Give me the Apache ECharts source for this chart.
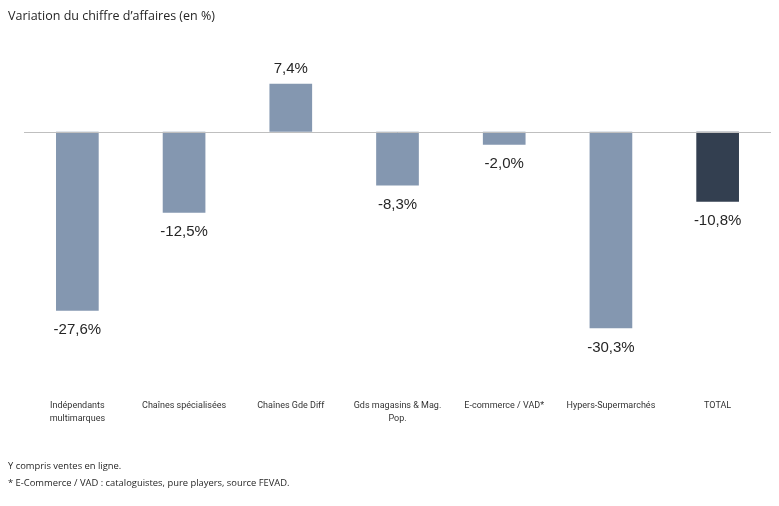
<!DOCTYPE html>
<html><head><meta charset="utf-8">
<script src="https://cdn.jsdelivr.net/npm/echarts@6/dist/echarts.min.js"></script>
<style>html,body{margin:0;padding:0;background:#fff}#c{width:779px;height:506px}</style>
</head><body><div id="c"></div>
<script>
const categories = ["Indépendants\nmultimarques","Chaînes spécialisées","Chaînes Gde Diff","Gds magasins & Mag.\nPop.","E-commerce / VAD*","Hypers-Supermarchés","TOTAL"];
const values = [-27.6, -12.5, 7.4, -8.3, -2.0, -30.3, -10.8];
const barColors = ["#8497b0","#8497b0","#8497b0","#8497b0","#8497b0","#8497b0","#333f50"];
const titleText = "Variation du chiffre d’affaires (en %)";
const notes = ["Y compris ventes en ligne.", "* E-Commerce / VAD : cataloguistes, pure players, source FEVAD."];

const chart = echarts.init(document.getElementById('c'), null, {renderer:'canvas'});
chart.setOption({
  animation:false,
  graphic:[
    {type:'text',left:8,top:10,style:{text:titleText,font:'12.5px "Open Sans"',fill:'#262626'}},
    {type:'text',left:8,top:462,style:{text:notes[0],font:'9.4px "Open Sans"',fill:'#262626'}},
    {type:'text',left:8,top:479,style:{text:notes[1],font:'9.4px "Open Sans"',fill:'#262626'}}
  ],
  grid:{left:24,right:8,top:67,bottom:115},
  xAxis:{type:'category',data:categories,position:'bottom',axisLine:{show:false},axisTick:{show:false},
     axisLabel:{interval:0,margin:8,fontFamily:'Roboto',fontSize:9,color:'#333',lineHeight:13}},
  yAxis:{type:'value',min:-40,max:10,interval:10,show:false,splitLine:{show:false}},
  series:[{
    type:'bar',barWidth:'40%',
    data:values.map((v,i)=>({value:v,itemStyle:{color:barColors[i]},
      label:{position:v>=0?'top':'bottom',distance:v>=0?7:12}})),
    label:{show:true,fontFamily:'Liberation Sans',fontSize:15,color:'#262626',
      formatter:p=>p.value.toFixed(1).replace('.',',')+'%'},
    markLine:{silent:true,symbol:['none','none'],label:{show:false},
      lineStyle:{color:'#bfbfbf',width:1,type:'solid'},data:[{yAxis:0}]}
  }]
});
</script></body></html>
